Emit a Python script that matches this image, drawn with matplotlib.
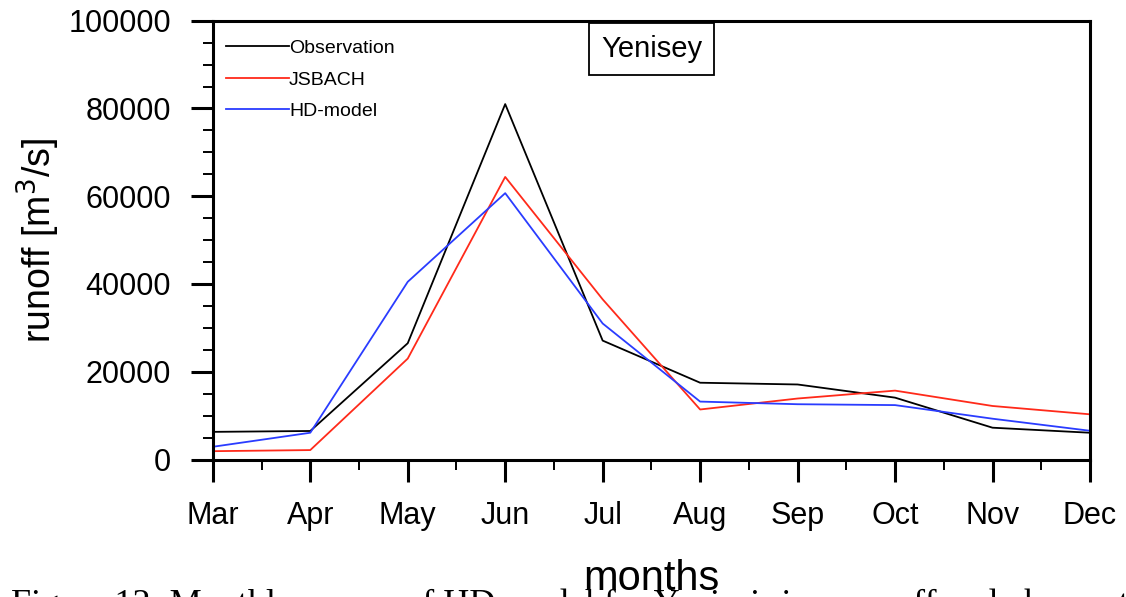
import matplotlib
matplotlib.use("Agg")
import matplotlib.pyplot as plt
from matplotlib.ticker import MultipleLocator

months = ["Mar", "Apr", "May", "Jun", "Jul", "Aug", "Sep", "Oct", "Nov", "Dec"]
observation = [6300, 6500, 26500, 81000, 27100, 17500, 17100, 14100, 7250, 6100]
jsbach = [1900, 2150, 23000, 64400, 36500, 11400, 13900, 15700, 12200, 10300]
hd_model = [2900, 6100, 40500, 60700, 31000, 13200, 12600, 12400, 9300, 6550]

plt.rcParams["font.family"] = ["Liberation Sans", "DejaVu Sans"]

fig = plt.figure(figsize=(11.26, 5.97), dpi=100)
ax = fig.add_axes([0.189, 0.2303, 0.779, 0.7350])

x = list(range(len(months)))
ax.plot(x, observation, color="black", lw=1.3, label="Observation")
ax.plot(x, jsbach, color="#ff2a1a", lw=1.3, label="JSBACH")
ax.plot(x, hd_model, color="#2a3cff", lw=1.3, label="HD-model")

ax.set_xlim(0, len(months) - 1)
ax.set_ylim(0, 100000)
ax.set_xticks(x)
ax.set_xticklabels(months)
ax.xaxis.set_minor_locator(MultipleLocator(0.5))
ax.yaxis.set_major_locator(MultipleLocator(20000))
ax.yaxis.set_minor_locator(MultipleLocator(5000))

for s in ax.spines.values():
    s.set_linewidth(2.2)
ax.tick_params(which="major", direction="out", length=16, width=2.2,
               labelsize=22, top=False, right=False)
ax.tick_params(which="minor", direction="out", length=7.5, width=1.4,
               top=False, right=False)
ax.tick_params(axis="x", which="major", pad=14)
ax.tick_params(axis="y", which="major", pad=14)

ax.set_xlabel("months", fontsize=30, labelpad=20)
ax.set_ylabel("runoff [m$^3$/s]", fontsize=27, labelpad=5)

leg = ax.legend(loc="upper left", bbox_to_anchor=(0.006, 0.975), frameon=False,
                fontsize=14, handlelength=3.25, handletextpad=0.0,
                labelspacing=0.72, borderaxespad=0.0)

ax.text(0.5, 0.935, "Yenisey", transform=ax.transAxes, ha="center", va="center",
        fontsize=21,
        bbox=dict(boxstyle="square,pad=0.42", facecolor="white",
                  edgecolor="black", linewidth=1.3))

fig.text(0.01, -0.028,
         "Figure 12: Monthly means of HD model for Yenisei river runoff and observations",
         fontsize=26, family=["Liberation Serif", "DejaVu Serif"], ha="left", va="baseline")

fig.savefig("out.png", dpi=100)
